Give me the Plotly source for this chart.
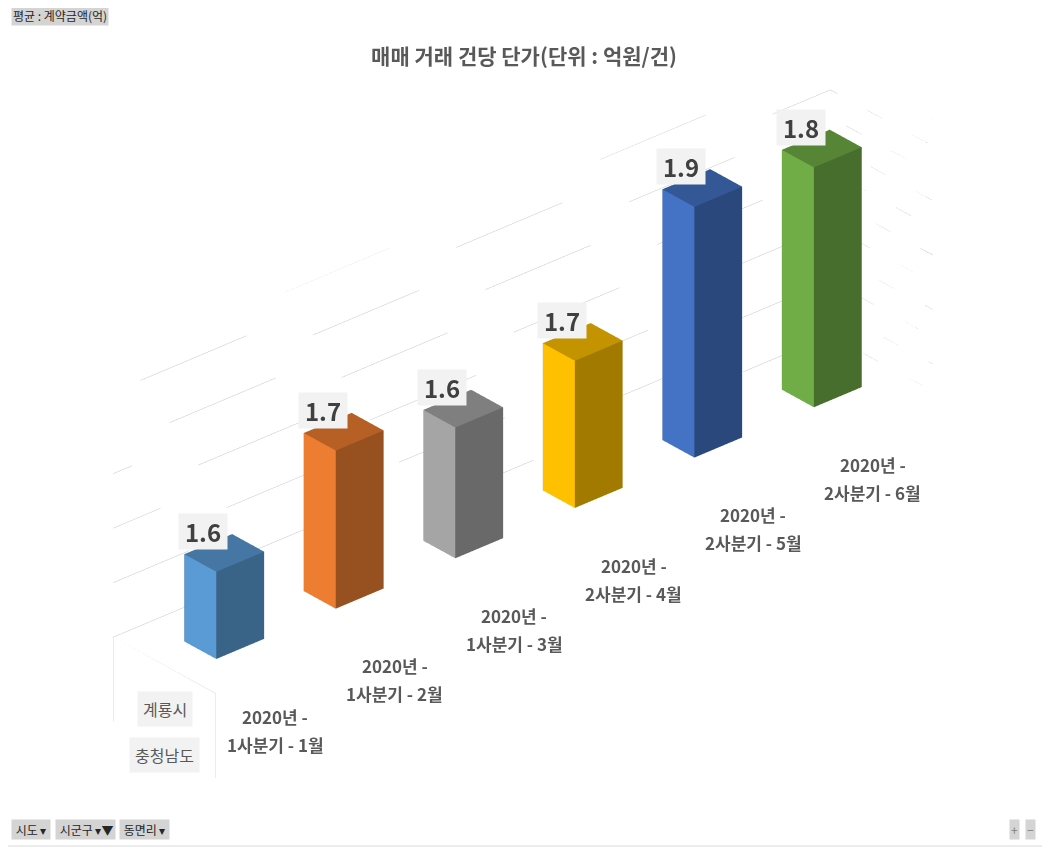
import plotly.graph_objects as go

# data
categories = ["2020년 - 1사분기 - 1월", "2020년 - 1사분기 - 2월", "2020년 - 1사분기 - 3월",
              "2020년 - 2사분기 - 4월", "2020년 - 2사분기 - 5월", "2020년 - 2사분기 - 6월"]
values = [1.56, 1.69, 1.64, 1.67, 1.86, 1.84]
labels = ["1.6", "1.7", "1.6", "1.7", "1.9", "1.8"]
outer_labels = ["계룡시", "충청남도"]
z_ticks = [1.4, 1.45, 1.5, 1.55, 1.6, 1.65, 1.7, 1.75, 1.8, 1.85, 1.9]

bar_colors = ["#5B9BD5", "#ED7D31", "#A5A5A5", "#FFC000", "#4472C4", "#70AD47"]

ZMIN, ZMAX, ZLOW = 1.4, 1.9, 1.2
YD = 1.6       # floor half depth
BW, BD = 0.2, 0.5  # bar half width / half depth
W, H = 1050, 847
OFF = 8  # page body margin
SC = 1.15  # ortho zoom


def shade(hexcol, k):
    h = hexcol.lstrip("#")
    r, g, b = (int(h[i:i + 2], 16) for i in (0, 2, 4))
    return "rgb(%d,%d,%d)" % (r * k, g * k, b * k)


def px(x):
    return (x - OFF) / W


def py(y):
    return 1 - (y - OFF) / H


# bars as boxes
xs, ys, zs, I, J, K, fc = [], [], [], [], [], [], []
for n, v in enumerate(values):
    x0, x1 = n - BW, n + BW
    y0, y1 = -BD, BD
    b = len(xs)
    for (qx, qy, qz) in [(x0, y0, ZMIN), (x1, y0, ZMIN), (x1, y1, ZMIN), (x0, y1, ZMIN),
                         (x0, y0, v), (x1, y0, v), (x1, y1, v), (x0, y1, v)]:
        xs.append(qx); ys.append(qy); zs.append(qz)
    light = bar_colors[n]
    dark = shade(light, 0.64)
    top = shade(light, 0.77)
    faces = [((0, 1, 2), dark), ((0, 2, 3), dark),
             ((4, 5, 6), top), ((4, 6, 7), top),
             ((0, 1, 5), dark), ((0, 5, 4), dark),
             ((3, 2, 6), dark), ((3, 6, 7), dark),
             ((0, 3, 7), light), ((0, 7, 4), light),
             ((1, 2, 6), dark), ((1, 6, 5), dark)]
    for (a, c, d), col in faces:
        I.append(b + a); J.append(b + c); K.append(b + d); fc.append(col)

bars = go.Mesh3d(x=xs, y=ys, z=zs, i=I, j=J, k=K, facecolor=fc, flatshading=True,
                 lighting=dict(ambient=1, diffuse=0, specular=0, fresnel=0, roughness=1),
                 hoverinfo="skip", showscale=False)

# gridlines on back wall and right wall
gx, gy, gz = [], [], []
x_lo, x_hi = -0.5, len(categories) - 0.5
for z in z_ticks:
    gx += [x_lo, x_hi, x_hi, None]
    gy += [YD, YD, -YD, None]
    gz += [z, z, z, None]
grid = go.Scatter3d(x=gx, y=gy, z=gz, mode="lines",
                    line=dict(color="#C8C8C8", width=1, dash="dash"),
                    hoverinfo="skip", showlegend=False)

# category separator lines
sep = go.Scatter3d(x=[x_lo, x_lo, x_lo, x_lo, None, x_lo, x_lo],
                   y=[YD, YD, -YD, -YD, None, YD, YD],
                   z=[1.245, ZMIN, ZMIN, 1.245, None, ZMIN, ZMIN],
                   mode="lines", line=dict(color="#D9D9D9", width=1),
                   hoverinfo="skip", showlegend=False)

FONT = "Noto Sans CJK KR"
ann = []
for n, v in enumerate(values):
    ann.append(dict(x=n, y=0, z=v, text="<b>%s</b>" % labels[n], showarrow=False,
                    font=dict(family=FONT, size=24, color="#404040"),
                    bgcolor="#F2F2F2", borderpad=3, width=42, height=29,
                    xshift=-21, yshift=21))
for n, c in enumerate(categories):
    first, rest = c.split(" - ", 1)
    ann.append(dict(x=n, y=-YD + 0.01, z=1.286, text="<b>%s -</b>" % first, showarrow=False,
                    font=dict(family=FONT, size=17, color="#595959"), yshift=14))
    ann.append(dict(x=n, y=-YD + 0.01, z=1.286, text="<b>%s</b>" % rest, showarrow=False,
                    font=dict(family=FONT, size=17, color="#595959"), yshift=-14))
for lab, z in zip(outer_labels, [1.32, 1.235]):
    ann.append(dict(x=x_lo + 0.001, y=0, z=z, text=lab, showarrow=False,
                    font=dict(family=FONT, size=16, color="#595959"),
                    bgcolor="#F2F2F2", borderpad=5))

fig = go.Figure([grid, sep, bars])

noaxis = dict(visible=False, showgrid=False, zeroline=False, showbackground=False)
fig.update_layout(
    width=W, height=H,
    margin=dict(l=0, r=0, t=0, b=0),
    paper_bgcolor="white",
    title=dict(text="<b>매매 거래 건당 단가(단위 : 억원/건)</b>", x=px(524), xanchor="center",
               y=py(57), yanchor="middle", font=dict(family=FONT, size=21, color="#595959")),
    scene=dict(
        domain=dict(x=[0, 0.981], y=[0.0093, 0.9883]),
        xaxis=dict(range=[x_lo, x_hi], **noaxis),
        yaxis=dict(range=[-YD, YD], **noaxis),
        zaxis=dict(range=[ZLOW, ZMAX], **noaxis),
        aspectmode="manual",
        aspectratio=dict(x=2 * SC, y=0.326 * SC, z=0.913 * SC),
        camera=dict(eye=dict(x=-1.213, y=-1.385, z=1.010), up=dict(x=0, y=0, z=1),
                    center=dict(x=0, y=0, z=0), projection=dict(type="orthographic")),
        annotations=ann,
        bgcolor="white",
    ),
    showlegend=False,
)

# pivot chart field buttons
btn_font = dict(family=FONT, size=12, color="#262626")
buttons = [("평균 : 계약금액(억)", 11, 16), ("&nbsp;시도 ▾&nbsp;", 11, 829),
           ("&nbsp;시군구 ▾▼", 55, 829), ("&nbsp;동면리 ▾&nbsp;", 119, 829)]
for txt, bx, by in buttons:
    fig.add_annotation(text=txt, x=px(bx), y=py(by), xref="paper", yref="paper",
                       xanchor="left", yanchor="middle", showarrow=False, font=btn_font,
                       bgcolor="#D4D4D4", borderpad=1)
for txt, bx in [("+", 1014), ("−", 1030)]:
    fig.add_annotation(text=txt, x=px(bx), y=py(829), xref="paper", yref="paper",
                       xanchor="center", yanchor="middle", showarrow=False,
                       font=dict(family=FONT, size=12, color="#808080"),
                       bgcolor="#D4D4D4", borderpad=1)
# right and bottom chart border
fig.add_shape(type="line", xref="paper", yref="paper", x0=px(1049), x1=px(1049), y0=py(846), y1=1,
              line=dict(color="#D9D9D9", width=1))
fig.add_shape(type="line", xref="paper", yref="paper", x0=0, x1=px(1049), y0=py(846), y1=py(846),
              line=dict(color="#D9D9D9", width=1))

fig.write_html("out.html")
